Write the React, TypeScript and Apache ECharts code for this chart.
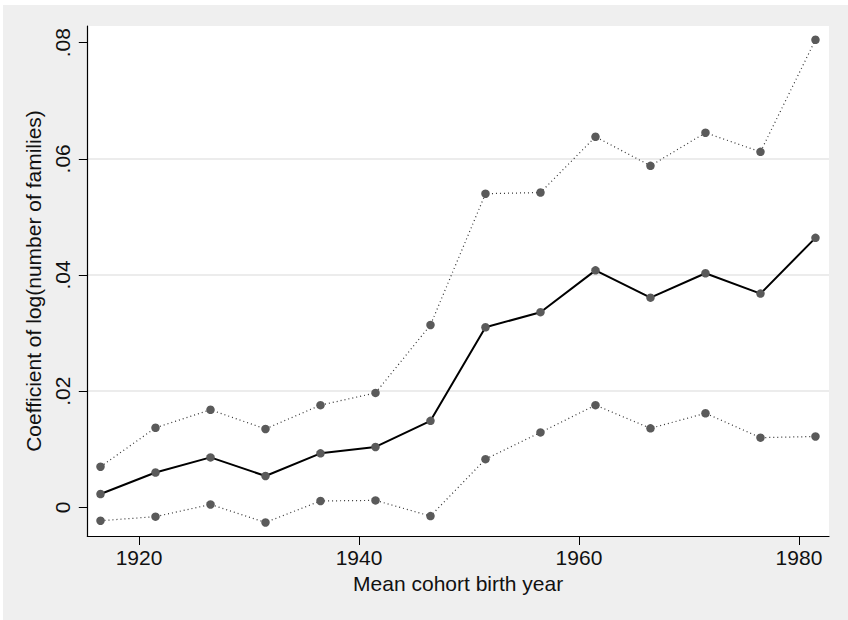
import React, { useEffect, useRef } from "react";
import * as echarts from "echarts";

const years = [1916.5, 1921.5, 1926.5, 1931.5, 1936.5, 1941.5, 1946.5, 1951.5, 1956.5, 1961.5, 1966.5, 1971.5, 1976.5, 1981.5];
const coef = [0.0023, 0.006, 0.0086, 0.0054, 0.0093, 0.0104, 0.0149, 0.031, 0.0336, 0.0408, 0.0361, 0.0403, 0.0368, 0.0464];
const upper = [0.007, 0.0137, 0.0168, 0.0135, 0.0176, 0.0197, 0.0314, 0.054, 0.0542, 0.0638, 0.0588, 0.0645, 0.0612, 0.0805];
const lower = [-0.0023, -0.0016, 0.0005, -0.0026, 0.0011, 0.0012, -0.0015, 0.0083, 0.0129, 0.0176, 0.0136, 0.0162, 0.012, 0.0122];
const xTicks = [1920, 1940, 1960, 1980];
const yTicks = [0, 0.02, 0.04, 0.06, 0.08];

const FONT = "'Liberation Sans', Arial, Helvetica, sans-serif";

function pairs(vals: number[]) {
  return years.map((x, i) => [x, vals[i]]);
}

export default function App() {
  const ref = useRef<HTMLDivElement>(null);
  useEffect(() => {
    if (!ref.current) return;
    const chart = echarts.init(ref.current, null, { renderer: "svg" });
    const marker = { color: "#5a5a5a" };
    chart.setOption({
      animation: false,
      backgroundColor: "#efefef",
      textStyle: { fontFamily: FONT },
      graphic: [
        { type: "rect", shape: { x: 0, y: 0, width: 848, height: 5 }, style: { fill: "#ffffff" }, silent: true },
        { type: "rect", shape: { x: 0, y: 0, width: 3, height: 620 }, style: { fill: "#ffffff" }, silent: true },
      ],
      grid: {
        left: 87.3,
        right: 19,
        top: 26,
        bottom: 84,
        show: true,
        backgroundColor: "#ffffff",
        borderWidth: 0,
      },
      xAxis: {
        type: "value",
        min: 1915.3,
        max: 1982.73,
        name: "Mean cohort birth year",
        nameLocation: "middle",
        nameGap: 32,
        nameTextStyle: { fontSize: 21, color: "#111", fontFamily: FONT },
        axisLine: { show: true, onZero: false, lineStyle: { color: "#000", width: 1.2 } },
        axisTick: { show: true, length: 9, customValues: xTicks, lineStyle: { color: "#000", width: 1 } },
        axisLabel: {
          customValues: xTicks,
          fontSize: 21,
          color: "#111",
          margin: 11,
          fontFamily: FONT,
          formatter: (v: number) => String(Math.round(v)),
        },
        splitLine: { show: false },
      },
      yAxis: {
        type: "value",
        min: -0.00493,
        max: 0.08287,
        name: "Coefficient of log(number of families)",
        nameLocation: "middle",
        nameGap: 36,
        nameTextStyle: { fontSize: 21, color: "#111", fontFamily: FONT },
        axisLine: { show: true, onZero: false, lineStyle: { color: "#000", width: 1.2 } },
        axisTick: { show: true, length: 8.5, customValues: yTicks, lineStyle: { color: "#000", width: 1 } },
        axisLabel: {
          customValues: yTicks,
          rotate: 90,
          fontSize: 21,
          color: "#111",
          margin: 14,
          fontFamily: FONT,
          formatter: (v: number) => (v === 0 ? "0" : v.toFixed(2).replace(/^0/, "")),
        },
        splitLine: { show: true, showMinLine: false, showMaxLine: false, lineStyle: { color: "#e6e6e6", width: 1.5 } },
      },
      series: [
        {
          type: "line",
          data: pairs(upper),
          symbol: "circle",
          symbolSize: 8.5,
          itemStyle: marker,
          lineStyle: { color: "#333", width: 1.2, type: [1, 3] },
          z: 2,
        },
        {
          type: "line",
          data: pairs(lower),
          symbol: "circle",
          symbolSize: 8.5,
          itemStyle: marker,
          lineStyle: { color: "#333", width: 1.2, type: [1, 3] },
          z: 2,
        },
        {
          type: "line",
          data: pairs(coef),
          symbol: "circle",
          symbolSize: 8.5,
          itemStyle: marker,
          lineStyle: { color: "#000", width: 2 },
          z: 3,
        },
      ],
    });
    return () => chart.dispose();
  }, []);
  return (
    <div
      ref={ref}
      style={{ position: "fixed", left: 0, top: 0, width: 848, height: 620 }}
    />
  );
}
